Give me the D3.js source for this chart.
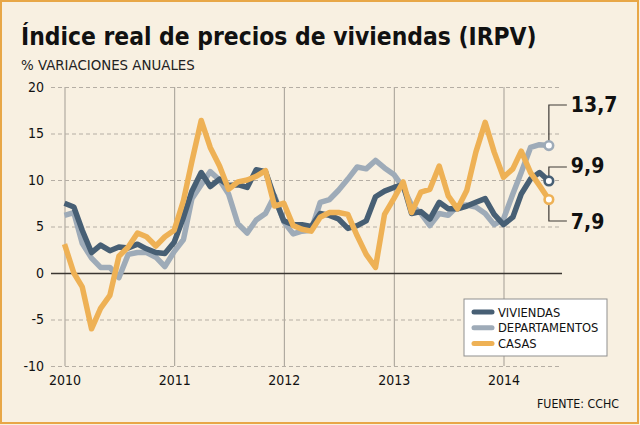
<!DOCTYPE html>
<html>
<head>
<meta charset="utf-8">
<script src="https://cdn.jsdelivr.net/npm/d3@7"></script>
<style>
  body { margin: 0; background: #f8f0e1; }
  svg { display: block; }
</style>
</head>
<body>
<svg id="chart" width="640" height="425"></svg>
<script>
// monthly data, Jan 2010 - Jun 2014
const firstMonth = new Date(2010, 0, 1);
const viviendas = [
  7.5, 7.1, 4.6, 2.2, 3.0, 2.4, 2.8, 2.7, 3.1, 2.6, 2.2, 2.1,
  3.3, 6.0, 8.8, 10.8, 9.3, 10.1, 9.4, 9.5, 9.2, 11.1, 10.9, 8.1,
  5.6, 5.2, 5.2, 5.0, 6.4, 6.2, 5.8, 4.8, 5.1, 5.6, 8.2, 8.8,
  9.2, 9.5, 6.4, 6.6, 5.8, 7.6, 6.9, 6.9, 7.2, 7.6, 8.0, 6.3,
  5.2, 6.0, 8.5, 10.1, 10.8, 9.9
];
const departamentos = [
  6.2, 6.5, 3.2, 1.6, 0.6, 0.6, -0.5, 2.0, 2.2, 2.2, 1.7, 0.7,
  2.3, 3.6, 8.0, 9.5, 10.9, 10.0, 8.5, 5.3, 4.3, 5.7, 6.4, 8.3,
  5.5, 4.2, 4.5, 4.6, 7.6, 7.9, 8.9, 10.1, 11.4, 11.2, 12.1, 11.3,
  10.6, 9.2, 7.3, 6.4, 5.1, 6.4, 6.2, 7.2, 7.3, 7.1, 6.4, 5.2,
  5.8, 8.5, 10.8, 13.5, 13.8, 13.7
];
const casas = [
  3.1, 0.0, -1.5, -6.0, -3.8, -2.4, 1.8, 2.8, 4.3, 3.9, 2.9, 3.9,
  4.6, 7.8, 12.0, 16.4, 13.5, 11.5, 9.0, 9.8, 10.0, 10.4, 11.0, 7.2,
  7.5, 5.1, 4.7, 4.5, 6.0, 6.5, 6.5, 6.3, 4.0, 2.0, 0.6, 6.3,
  8.0, 9.8, 6.5, 8.7, 9.0, 11.5, 8.3, 6.9, 8.9, 13.0, 16.2, 13.0,
  10.3, 11.2, 13.1, 10.8, 9.4, 7.9
];
const seriesNames = ["VIVIENDAS", "DEPARTAMENTOS", "CASAS"];
const seriesColors = ["#475f74", "#9eabb8", "#eeb155"];
const yTicks = [-10, -5, 0, 5, 10, 15, 20];
const xYears = [2010, 2011, 2012, 2013, 2014];
const endLabels = ["9,9", "13,7", "7,9"];

const series = [viviendas, departamentos, casas].map((vals, i) => ({
  name: seriesNames[i],
  color: seriesColors[i],
  values: vals.map((v, m) => ({ date: d3.timeMonth.offset(firstMonth, m), value: v }))
}));

const svg = d3.select("#chart");
const font = "'DejaVu Sans Condensed', 'DejaVu Sans', sans-serif";

// background and frame
svg.append("rect").attr("x", 1).attr("y", 1).attr("width", 637).attr("height", 422)
  .attr("fill", "#f8f0e1").attr("stroke", "#e8a747").attr("stroke-width", 2);

const fit = (sel, w) => {
  const len = sel.node().getComputedTextLength();
  sel.attr("font-size", parseFloat(sel.attr("font-size")) * w / len);
};

const title = svg.append("text").attr("x", 21).attr("y", 45)
  .attr("font-family", font).attr("font-weight", "bold").attr("font-size", 22)
  .attr("fill", "#111").text("Índice real de precios de viviendas (IRPV)");
fit(title, 516);

// subtitle: tall but narrow, squeeze horizontally
const sub = svg.append("text")
  .attr("font-family", font).attr("font-size", 14.5)
  .attr("fill", "#222").text("% VARIACIONES ANUALES");
const subLen = sub.node().getComputedTextLength();
sub.attr("transform", `translate(21,70) scale(${174 / subLen},1)`);

// scales
const x = d3.scaleTime()
  .domain([new Date(2010, 0, 1), new Date(2014, 0, 1)])
  .range([64.5, 503.5]);
const y = d3.scaleLinear().domain([-10, 20]).range([366, 87]);

const left = 51, right = 562;

// x axis with vertical gridlines
const xAxis = svg.append("g")
  .attr("transform", `translate(0,${y(-10)})`)
  .call(d3.axisBottom(x)
    .tickValues(xYears.map(yr => new Date(yr, 0, 1)))
    .tickFormat(d3.timeFormat("%Y"))
    .tickSize(-(y(-10) - y(20)))
    .tickPadding(9));
xAxis.select(".domain").remove();
xAxis.selectAll("line").attr("stroke", "#a39d94");
xAxis.selectAll("text").attr("font-family", font).attr("font-size", 14).attr("fill", "#111");

// y axis with horizontal gridlines
const yAxis = svg.append("g")
  .attr("transform", `translate(${left},0)`)
  .call(d3.axisLeft(y).tickValues(yTicks).tickFormat(d => String(d))
    .tickSize(-(right - left)).tickPadding(7));
yAxis.select(".domain").remove();
yAxis.selectAll("line")
  .attr("stroke", d => d === 0 ? "#3b3631" : "#b5aea4")
  .attr("stroke-width", d => d === 0 ? 1.6 : 1)
  .attr("stroke-dasharray", d => d === 0 ? null : "4,3");
yAxis.selectAll("text").attr("font-family", font).attr("font-size", 14).attr("fill", "#111");

// lines
const line = d3.line().x(d => x(d.date)).y(d => y(d.value));
const drawOrder = [1, 0, 2];
svg.append("g").selectAll("path").data(drawOrder.map(i => series[i])).join("path")
  .attr("d", d => line(d.values))
  .attr("fill", "none")
  .attr("stroke", d => d.color)
  .attr("stroke-width", 5.5)
  .attr("stroke-linejoin", "round");

// end markers, leader lines and labels
const lastPts = series.map(s => s.values[s.values.length - 1]);
const lx = x(lastPts[0].date);
const leaderY = [167, 105, 221];
const labelY = [173, 112, 229];
const lead = svg.append("g");
lastPts.forEach((p, i) => {
  lead.append("path")
    .attr("d", `M${lx},${y(p.value)}V${leaderY[i]}H${lx + 18}`)
    .attr("fill", "none").attr("stroke", "#3e3a36").attr("stroke-width", 1.2);
});
lastPts.forEach((p, i) => {
  svg.append("circle").attr("cx", lx).attr("cy", y(p.value)).attr("r", 4.3)
    .attr("fill", "#fff").attr("stroke", series[i].color).attr("stroke-width", 2.6);
  svg.append("text").attr("x", lx + 22).attr("y", labelY[i])
    .attr("font-family", font).attr("font-weight", "bold").attr("font-size", 21)
    .attr("fill", "#111").text(endLabels[i]);
});

// legend
const lg = svg.append("g").attr("transform", "translate(464,299)");
lg.append("rect").attr("width", 143).attr("height", 57)
  .attr("fill", "#fff").attr("stroke", "#8f8f8f");
series.forEach((s, i) => {
  const ly = 13 + i * 15.8;
  lg.append("line").attr("x1", 10).attr("x2", 28).attr("y1", ly).attr("y2", ly)
    .attr("stroke", s.color).attr("stroke-width", 5).attr("stroke-linecap", "round");
  lg.append("text").attr("x", 34).attr("y", ly + 4.5)
    .attr("font-family", font).attr("font-size", 12.8).attr("fill", "#111").text(s.name);
});

const src = svg.append("text").attr("x", 537).attr("y", 408)
  .attr("font-family", font).attr("font-size", 12).attr("fill", "#111").text("FUENTE: CCHC");
fit(src, 82);
</script>
</body>
</html>
